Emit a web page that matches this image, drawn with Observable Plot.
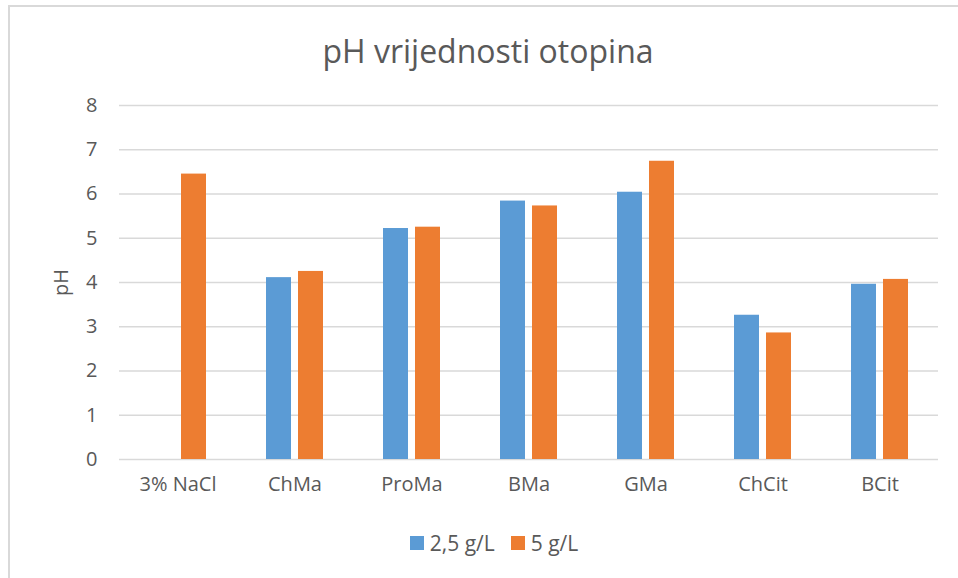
<!DOCTYPE html>
<html>
<head>
<meta charset="utf-8">
<script src="https://cdn.jsdelivr.net/npm/d3@7"></script>
<script src="https://cdn.jsdelivr.net/npm/@observablehq/plot@0.6"></script>
<style>
  html, body { margin: 0; padding: 0; background: #fff; }
  #wrap { position: relative; width: 958px; height: 578px; overflow: hidden; font-family: "Open Sans", sans-serif; color: #595959; }
  #frame { position: absolute; left: 8px; top: 5px; width: 1000px; height: 700px; border-left: 2px solid #d9d9d9; border-top: 2px solid #d9d9d9; }
  #title { position: absolute; left: 0; top: 0; width: 976px; height: 85px; text-align: center; font-size: 32px; line-height: 102px; }
  #chart { position: absolute; left: 0; top: 85px; }
  #legend { position: absolute; left: 0; top: 528px; width: 988px; display: flex; justify-content: center; gap: 16px; font-size: 21px; line-height: 30px; }
  .item { display: flex; align-items: center; gap: 6px; }
  .sw { width: 14px; height: 14px; display: inline-block; }
</style>
</head>
<body>
<div id="wrap">
  <div id="frame"></div>
  <div id="title"></div>
  <div id="chart"></div>
  <div id="legend"></div>
</div>
<script>
const title = "pH vrijednosti otopina";
const yLabel = "pH";
const categories = ["3% NaCl", "ChMa", "ProMa", "BMa", "GMa", "ChCit", "BCit"];
const series = ["2,5 g/L", "5 g/L"];
const values25 = [null, 4.11, 5.22, 5.84, 6.04, 3.26, 3.96];
const values5 = [6.45, 4.25, 5.25, 5.73, 6.74, 2.86, 4.07];
const colors = ["#5b9bd5", "#ed7d31"];
const yTicks = [0, 1, 2, 3, 4, 5, 6, 7, 8];

const seriesValues = [values25, values5];
const data = [];
categories.forEach((c, i) => {
  series.forEach((s, j) => {
    const v = seriesValues[j][i];
    if (v != null) data.push({category: c, series: s, value: v});
  });
});

document.getElementById("title").textContent = title;

const chart = Plot.plot({
  width: 958,
  height: 430,
  marginLeft: 117,
  marginRight: 18,
  marginTop: 20,
  marginBottom: 56,
  style: {fontFamily: "Open Sans, sans-serif", fontSize: "20px", color: "#595959", background: "transparent"},
  fx: {domain: categories, padding: 0, label: null, axis: null},
  x: {domain: series, paddingInner: 0.212, paddingOuter: 0.888, axis: null},
  y: {domain: [0, 8], axis: null},
  color: {domain: series, range: colors},
  marks: [
    Plot.gridY(yTicks, {stroke: "#d9d9d9", strokeOpacity: 1, strokeWidth: 1.3}),
    Plot.barY(data, {fx: "category", x: "series", y: "value", fill: "series"}),
    Plot.axisFx({anchor: "bottom", tickSize: 0, tickPadding: 17, label: null, fontSize: 20}),
    Plot.axisY(yTicks, {anchor: "left", tickSize: 0, tickPadding: 22, fontSize: 20, label: yLabel, labelAnchor: "center", labelArrow: "none", labelOffset: 66})
  ]
});
document.getElementById("chart").appendChild(chart);

const legend = document.getElementById("legend");
series.forEach((s, i) => {
  const item = document.createElement("div");
  item.className = "item";
  const sw = document.createElement("span");
  sw.className = "sw";
  sw.style.background = colors[i];
  const t = document.createElement("span");
  t.textContent = s;
  item.appendChild(sw);
  item.appendChild(t);
  legend.appendChild(item);
});
</script>
</body>
</html>
